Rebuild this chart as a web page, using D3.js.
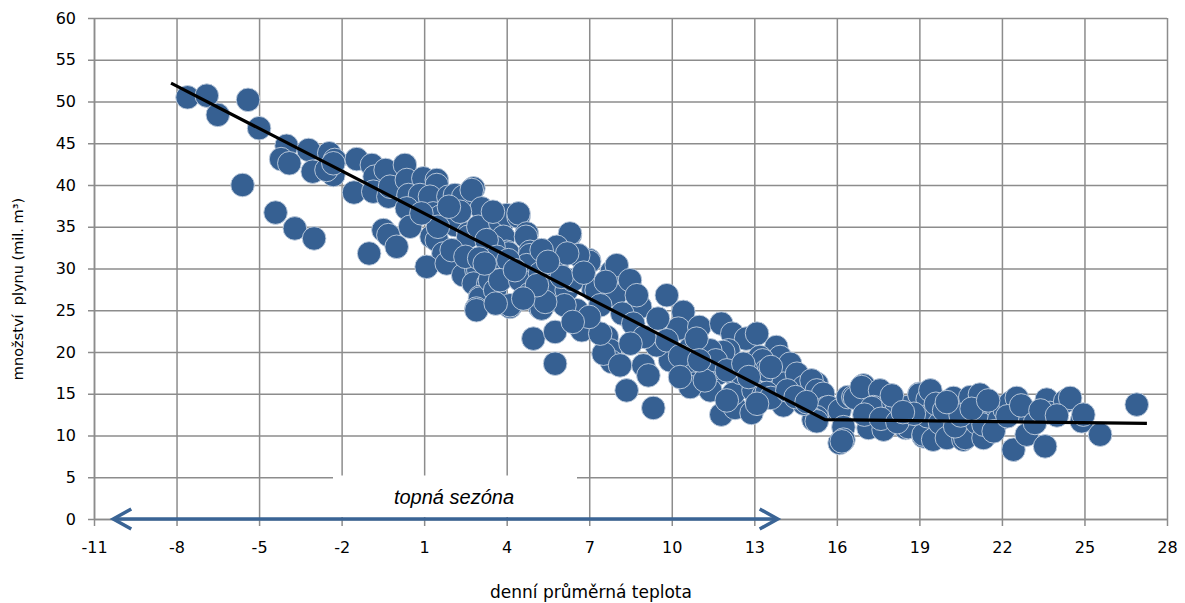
<!DOCTYPE html>
<html>
<head>
<meta charset="utf-8">
<script src="https://cdn.jsdelivr.net/npm/d3@7"></script>
<style>
  html, body { margin: 0; padding: 0; background: #fff; }
  svg { display: block; }
</style>
</head>
<body>
<svg id="chart" width="1185" height="603"></svg>
<script>
// ---- data ----
const temperature = [
  -7.6, -6.9, -6.5, -5.4, -5.0, -5.6, -4.4, -3.7, -3.0, -1.0,
  -4.0, -4.2, -3.9, -3.2, -3.05, -2.45, -2.25, -2.3, -2.55, -2.3,
  -1.45, -1.55, -0.9, -0.8, -0.85, -0.4, -0.3, -0.48, -0.3, -0.24,
  0.3, 0.37, 0.97, 1.46, 1.46, 0.43, 0.85, 1.21, 0.37, 1.88,
  1.33, 1.58, 0.49, 0.0, 1.27, 1.46, 1.7, 1.09, 1.82, 2.12,
  2.42, 2.79, 2.73, 3.09, 2.12, 2.6, 2.6, 2.97, 3.33, 3.82,
  3.76, 4.0, 4.43, 4.43, 3.88, 4.73, 4.7, 4.0, 4.06, 3.52,
  3.27, 3.64, 4.85, 4.85, 4.73, 4.06, 2.42, 2.9, 2.97, 2.8,
  3.33, 3.03, 3.03, 2.9, 2.9, 3.39, 3.58, 3.76, 4.49, 5.21,
  4.12, 4.12, 4.85, 5.2, 5.27, 4.97, 5.76, 5.76, 6.3, 6.3,
  5.82, 5.82, 5.27, 5.82, 5.7, 5.58, 6.18, 6.4, 6.55, 6.73,
  7.0, 7.0, 6.6, 7.15, 7.27, 6.1, 5.4, 7.82, 8.0, 7.94,
  7.64, 7.76, 7.82, 8.48, 8.85, 8.73, 7.52, 7.4, 8.12, 8.97,
  9.15, 8.36, 9.33, 9.82, 10.42, 10.24, 11.0, 10.67, 10.9, 10.79,
  9.94, 9.45, 9.82, 11.67, 11.8, 12.2, 12.7, 13.1, 12.06, 11.87,
  11.4, 11.4, 11.4, 10.67, 11.8, 12.3, 12.9, 12.42, 12.24, 12.97,
  13.33, 13.8, 13.94, 13.2, 13.3, 14.3, 13.45, 14.06, 13.94, 14.18,
  14.06, 14.55, 14.8, 15.27, 15.08, 15.27, 15.5, 15.6, 15.7, 15.27,
  15.15, 15.27, 16.1, 16.24, 16.4, 16.1, 16.24, 16.18, 16.6, 16.66,
  16.97, 16.9, 17.57, 17.33, 17.27, 17.2, 17.15, 17.7, 18.06, 18.18,
  18.55, 18.5, 18.6, 19.0, 19.0, 19.3, 19.4, 19.15, 19.15, 19.5,
  19.3, 19.75, 19.6, 20.24, 20.0, 20.6, 20.67, 20.3, 20.85, 21.2,
  21.33, 21.1, 21.33, 21.33, 21.8, 21.9, 22.1, 22.3, 22.54, 22.42,
  22.9, 22.9, 23.57, 23.63, 23.75, 24.3, 24.48, 24.9, 24.96, 25.57,
  26.9, 12.5, 13.45, 12.7, 13.6, 14.8,
  17.0, 17.6, 18.2, 18.0, 18.8, 19.9, 20.5, 20.9, 21.5, 21.7,
  22.2, 22.7, 23.2, 23.4, 24.0, 20.0, 18.4,
  10.3, 10.9, 11.2, 11.6, 12.0, 12.6, 12.8, 13.6, 14.2, 14.5,
  14.9, 13.1, 12.0, 11.0, 10.3,
  6.0, 6.8, 6.2, 7.4, 8.2, 8.6, 7.0, 6.4, 9.0, 8.5,
  9.5, 7.6, 5.5, 5.1,
  2.0, 2.5, 3.0, 1.5, 2.3, 3.5, 3.2, 4.3, 4.6, 3.6,
  1.9, 0.9
];
const gasVolume = [
  50.5, 50.7, 48.4, 50.2, 46.8, 40.0, 36.7, 34.8, 33.6, 31.8,
  44.7, 43.1, 42.6, 44.2, 41.6, 43.8, 43.0, 41.2, 41.8, 42.6,
  43.1, 39.1, 42.4, 41.0, 39.2, 41.8, 38.6, 34.6, 34.0, 39.8,
  42.4, 40.6, 40.8, 40.6, 40.0, 38.8, 38.8, 38.6, 37.2, 38.6,
  36.6, 36.2, 35.0, 32.6, 33.8, 33.4, 31.8, 30.2, 30.6, 38.8,
  38.6, 39.6, 39.4, 37.2, 35.2, 34.2, 33.8, 35.0, 33.4, 35.4,
  35.6, 36.4, 36.2, 36.6, 33.8, 34.2, 33.8, 32.0, 31.8, 32.6,
  33.4, 31.4, 32.0, 31.6, 30.4, 31.0, 29.2, 29.8, 29.8, 28.2,
  28.2, 26.6, 26.4, 25.2, 25.0, 28.6, 27.4, 28.6, 28.6, 29.4,
  25.4, 25.6, 27.0, 25.4, 25.2, 21.6, 22.4, 18.6, 34.0, 34.2,
  32.4, 32.6, 32.2, 30.2, 27.8, 27.4, 27.4, 28.6, 25.0, 22.6,
  31.0, 30.8, 31.6, 27.4, 27.4, 25.6, 26.0, 29.6, 30.4, 26.8,
  21.8, 20.2, 18.8, 28.6, 25.4, 26.8, 19.8, 22.2, 18.4, 18.4,
  17.2, 15.4, 13.3, 26.8, 24.8, 22.8, 23.0, 20.4, 17.8, 16.2,
  19.0, 20.8, 21.4, 17.4, 23.4, 22.2, 21.6, 22.2, 20.2, 20.0,
  20.2, 17.8, 15.4, 15.8, 12.5, 13.3, 12.7, 16.4, 15.0, 15.4,
  14.8, 20.6, 19.4, 19.4, 19.0, 18.6, 17.8, 16.2, 14.6, 14.3,
  13.6, 17.4, 15.8, 16.2, 16.6, 15.4, 15.0, 13.3, 13.4, 12.2,
  11.9, 11.7, 13.0, 11.0, 14.6, 9.1, 9.5, 9.3, 14.6, 14.5,
  16.0, 15.8, 15.4, 13.4, 13.3, 11.0, 10.9, 10.7, 13.8, 13.7,
  13.4, 10.9, 11.0, 15.0, 14.9, 14.3, 15.4, 9.9, 10.1, 9.5,
  12.3, 11.5, 13.8, 14.5, 9.7, 9.5, 9.7, 11.1, 14.6, 14.9,
  12.7, 11.5, 9.7, 11.3, 13.4, 11.9, 13.1, 13.9, 14.5, 8.3,
  12.8, 10.1, 8.7, 14.3, 12.7, 14.1, 14.5, 11.7, 12.5, 10.1,
  13.7, 17.5, 15.1, 17.8, 14.5, 13.8,
  12.5, 12.0, 11.6, 14.8, 12.6, 13.0, 12.4, 13.2, 14.2, 10.5,
  12.3, 13.6, 11.5, 13.0, 12.4, 14.0, 12.8,
  19.5, 21.6, 16.6, 19.0, 17.8, 18.6, 17.0, 18.2, 15.4, 14.6,
  14.0, 13.8, 14.2, 19.0, 17.0,
  29.0, 29.5, 31.8, 25.6, 24.6, 23.4, 24.2, 23.6, 21.8, 21.0,
  24.0, 28.4, 30.8, 28.0,
  32.2, 31.4, 31.2, 35.0, 36.8, 36.8, 30.6, 29.8, 26.4, 25.8,
  37.4, 36.6
];
const trendX = [-8.2, 15.57, 27.27];
const trendY = [52.2, 11.9, 11.45];
const xTicks = [-11, -8, -5, -2, 1, 4, 7, 10, 13, 16, 19, 22, 25, 28];
const yTicks = [0, 5, 10, 15, 20, 25, 30, 35, 40, 45, 50, 55, 60];
const seasonRange = [-10.3, 13.85];
const seasonLabel = "topná sezóna";
const xTitle = "denní průměrná teplota";
const yTitle = "množství  plynu (mil. m³)";

// ---- drawing ----
const svg = d3.select("#chart");
const pL = 94, pR = 1167, pT = 18, pB = 519;
const x = d3.scaleLinear().domain([-11, 28]).range([pL, pR]);
const y = d3.scaleLinear().domain([0, 60]).range([pB, pT]);
const gridColor = "#8c8c8c";
const numFont = "'DejaVu Sans', Verdana, sans-serif";

// gridlines
const gx = svg.append("g").attr("transform", `translate(0,${pB})`)
  .call(d3.axisBottom(x).tickValues(xTicks).tickSize(-(pB - pT)).tickFormat(""));
const gy = svg.append("g").attr("transform", `translate(${pL},0)`)
  .call(d3.axisLeft(y).tickValues(yTicks).tickSize(-(pR - pL)).tickFormat(""));
[gx, gy].forEach(g => {
  g.select(".domain").remove();
  g.selectAll("line").attr("stroke", gridColor).attr("stroke-width", 1.5);
});

// axes with outer ticks and labels
const axisX = svg.append("g").attr("transform", `translate(0,${pB})`)
  .call(d3.axisBottom(x).tickValues(xTicks).tickSize(7).tickPadding(16).tickSizeOuter(0).tickFormat(d3.format("d")));
const axisY = svg.append("g").attr("transform", `translate(${pL},0)`)
  .call(d3.axisLeft(y).tickValues(yTicks).tickSize(6).tickPadding(12).tickSizeOuter(0).tickFormat(d3.format("d")));
[axisX, axisY].forEach(g => {
  g.select(".domain").attr("stroke", gridColor).attr("stroke-width", 1.5);
  g.selectAll("line").attr("stroke", gridColor).attr("stroke-width", 1.5);
  g.selectAll("text").attr("fill", "#000").style("font-family", numFont).style("font-size", "16px");
});
axisX.selectAll("text").text(d => d < 0 ? "-" + Math.abs(d) : d);

// white label box (covers grid)
svg.append("rect").attr("x", 333).attr("y", 475.5).attr("width", 244).attr("height", 41.5).attr("fill", "#fff");

// scatter points
const pts = temperature.map((t, i) => ({ t, v: gasVolume[i] }));
svg.append("g").selectAll("circle").data(pts).join("circle")
  .attr("cx", d => x(d.t)).attr("cy", d => y(d.v)).attr("r", 11.8)
  .attr("fill", "#366092").attr("stroke", "#c3cfdf").attr("stroke-width", 0.9);

// trend line
const trend = trendX.map((t, i) => [x(t), y(trendY[i])]);
svg.append("path").attr("d", d3.line()(trend)).attr("fill", "none")
  .attr("stroke", "#000").attr("stroke-width", 3.2);

// heating season arrow
const ac = "#3a6495";
const ya = y(0);
const ax0 = x(seasonRange[0]), ax1 = x(seasonRange[1]);
svg.append("line").attr("x1", ax0 + 1).attr("x2", ax1 - 1).attr("y1", ya).attr("y2", ya)
  .attr("stroke", ac).attr("stroke-width", 3.5);
svg.append("path").attr("d", `M${ax0 + 18},${ya - 10} L${ax0},${ya} L${ax0 + 18},${ya + 10}`)
  .attr("fill", "none").attr("stroke", ac).attr("stroke-width", 3.5).attr("stroke-linejoin", "miter");
svg.append("path").attr("d", `M${ax1 - 18},${ya - 10} L${ax1},${ya} L${ax1 - 18},${ya + 10}`)
  .attr("fill", "none").attr("stroke", ac).attr("stroke-width", 3.5).attr("stroke-linejoin", "miter");

svg.append("text").attr("x", 454).attr("y", 504).attr("text-anchor", "middle")
  .style("font-family", "'Liberation Sans', Arial, sans-serif").style("font-style", "italic")
  .style("font-size", "20px").text(seasonLabel);

// axis titles
svg.append("text").attr("x", 591).attr("y", 598).attr("text-anchor", "middle")
  .style("font-family", numFont).style("font-size", "17px").text(xTitle);
svg.append("text").attr("transform", "translate(23,289) rotate(-90)").attr("text-anchor", "middle")
  .style("font-family", numFont).style("font-size", "14.5px").style("white-space", "pre")
  .attr("xml:space", "preserve").text(yTitle);
</script>
</body>
</html>
